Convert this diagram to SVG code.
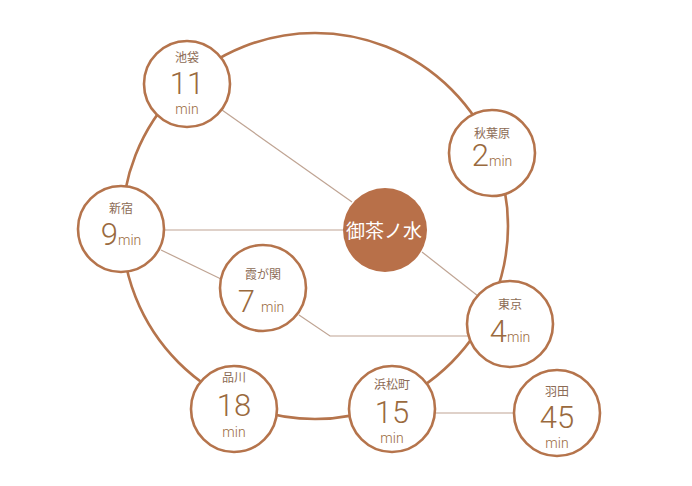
<svg xmlns="http://www.w3.org/2000/svg" width="692" height="486" viewBox="0 0 692 486">
<style>
.ring{fill:none;stroke:#b5744c;stroke-width:2.6}
.node{fill:#fff;stroke:#b5744c;stroke-width:2.6}
.conn{stroke:#bfa493;stroke-width:1.2;fill:none}
.nm{font-family:"Noto Sans CJK JP","Noto Sans",sans-serif;font-size:12px;fill:#8c6b55;text-anchor:middle}
.num{font-family:"Roboto","Liberation Sans",sans-serif;font-weight:300;font-size:31px;fill:#9a6a3e}
.min{font-family:"Roboto","Liberation Sans",sans-serif;font-weight:300;font-size:14px;fill:#9a6a3e}
.c{text-anchor:middle}
</style>
<rect width="692" height="486" fill="#fff"/>
<circle class="ring" cx="315" cy="226" r="193"/>
<g id="connectors">
<line class="conn" x1="222" y1="110" x2="352" y2="202"/>
<line class="conn" x1="164" y1="230" x2="343" y2="230"/>
<line class="conn" x1="161" y1="250" x2="221" y2="279"/>
<polyline class="conn" points="299,315 330,336 468,336"/>
<line class="conn" x1="422" y1="252" x2="478" y2="296"/>
<line class="conn" x1="434" y1="413" x2="514" y2="413"/>
</g>
<g id="ikebukuro">
<circle class="node" cx="187" cy="84" r="43"/>
<text class="nm" x="187" y="62">池袋</text>
<text class="num c" x="187" y="94">11</text>
<text class="min c" x="187" y="114">min</text>
</g>
<g id="akihabara">
<circle class="node" cx="492" cy="153" r="43"/>
<text class="nm" x="492" y="138">秋葉原</text>
<text x="492" y="166" class="c"><tspan class="num">2</tspan><tspan class="min">min</tspan></text>
</g>
<g id="shinjuku">
<circle class="node" cx="121" cy="229" r="43"/>
<text class="nm" x="121" y="213">新宿</text>
<text x="121" y="245" class="c"><tspan class="num">9</tspan><tspan class="min">min</tspan></text>
</g>
<g id="kasumigaseki">
<circle class="node" cx="263" cy="288" r="43"/>
<text class="nm" x="263" y="279">霞が関</text>
<text x="261" y="312" class="c"><tspan class="num">7</tspan><tspan class="min" dx="6">min</tspan></text>
</g>
<g id="ochanomizu">
<circle cx="385" cy="230" r="42" fill="#b87049"/>
<text x="384" y="238" font-family="Noto Sans CJK JP,sans-serif" font-size="19" fill="#fff" text-anchor="middle">御茶ノ水</text>
</g>
<g id="tokyo">
<circle class="node" cx="510" cy="324" r="43"/>
<text class="nm" x="510" y="309">東京</text>
<text x="510" y="342" class="c"><tspan class="num">4</tspan><tspan class="min">min</tspan></text>
</g>
<g id="shinagawa">
<circle class="node" cx="234" cy="409" r="43"/>
<text class="nm" x="234" y="382">品川</text>
<text class="num c" x="234" y="416">18</text>
<text class="min c" x="234" y="437">min</text>
</g>
<g id="hamamatsucho">
<circle class="node" cx="392" cy="409" r="43"/>
<text class="nm" x="392" y="389">浜松町</text>
<text class="num c" x="392" y="423">15</text>
<text class="min c" x="392" y="443">min</text>
</g>
<g id="haneda">
<circle class="node" cx="557" cy="413" r="43"/>
<text class="nm" x="557" y="396">羽田</text>
<text class="num c" x="557" y="428">45</text>
<text class="min c" x="557" y="448">min</text>
</g>
</svg>
